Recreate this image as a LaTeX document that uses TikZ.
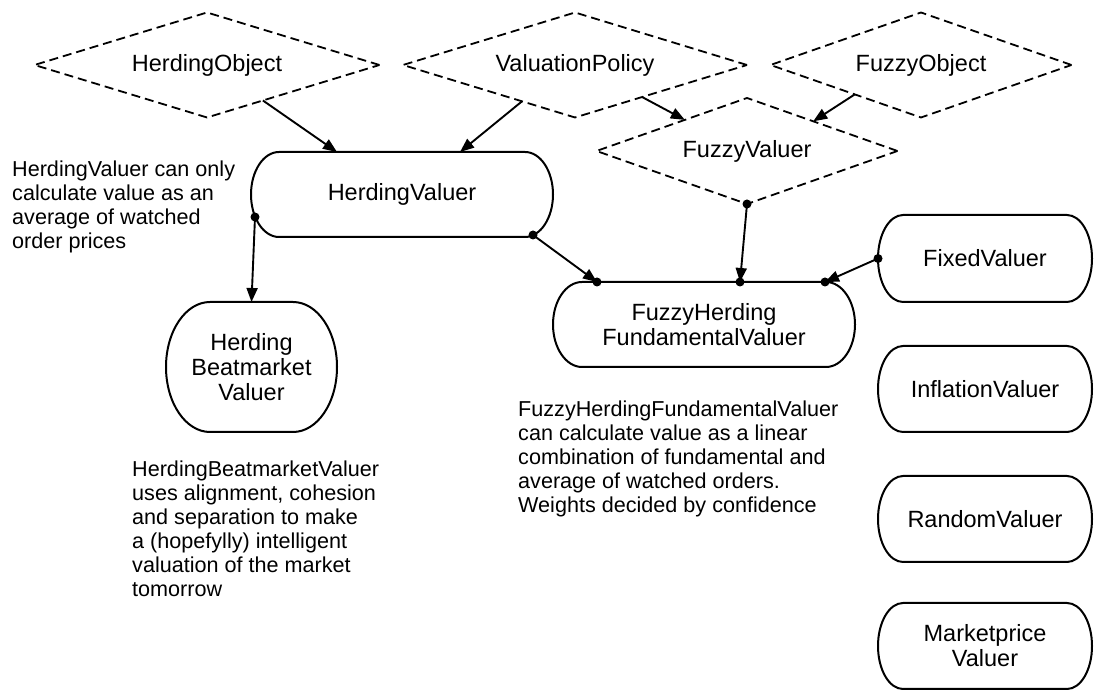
\documentclass[tikz,border=0pt]{standalone}
\usepackage{fontspec}
\setmainfont{Liberation Sans}
\usetikzlibrary{shapes.geometric,arrows.meta,calc}

\tikzset{
  outline/.style={line width=2pt, draw=black},
  boxtext/.style={font=\fontsize{23.5}{25}\selectfont, align=center,
    inner sep=0pt, outer sep=0pt},
  decision/.style={shape=diamond, draw, line width=1.8pt,
    dash pattern=on 9pt off 5pt, aspect=3.3, inner sep=0pt, outer sep=0pt,
    font=\fontsize{23.5}{25}\selectfont},
  note/.style={font=\fontsize{21.6}{24}\selectfont, align=left,
    inner sep=0pt, anchor=north west},
  conn/.style={line width=1.9pt, -{Triangle[length=14pt,width=11pt]}},
}

% capsule outline with elliptic ends around a node: #1 node, #2 end radius
\newcommand\capsule[2]{%
  \draw[outline] let \p1=(#1.north west), \p2=(#1.south east),
      \n1={(\y1-\y2)/2} in
    (\x1+#2,\y1) -- (\x2-#2,\y1)
    arc[start angle=90,end angle=-90,x radius=#2,y radius=\n1]
    -- (\x1+#2,\y2)
    arc[start angle=270,end angle=90,x radius=#2,y radius=\n1] -- cycle;}

\begin{document}
\begin{tikzpicture}[x=1pt,y=1pt]
\useasboundingbox (0,0) rectangle (1095,690);
\fill[white] (0,0) rectangle (1095,690);

% abstract types
\node[decision, minimum width=345pt, minimum height=105pt] (ho) at (207,625) {HerdingObject};
\node[decision, minimum width=344pt, minimum height=105pt] (vp) at (575,625) {ValuationPolicy};
\node[decision, minimum width=301pt, minimum height=105pt] (fo) at (921,625) {FuzzyObject};
\node[decision, minimum width=301pt, minimum height=106pt] (fv) at (747,539) {FuzzyValuer};

% concrete valuers
\node[boxtext, minimum width=302pt, minimum height=85pt] (hv) at (402,495.5) {HerdingValuer};
\node[boxtext, minimum width=171pt, minimum height=130pt] (hbv) at (251.5,323) {Herding\\Beatmarket\\Valuer};
\node[boxtext, minimum width=302pt, minimum height=85pt] (fhfv) at (704,365.5) {FuzzyHerding\\FundamentalValuer};
\node[boxtext, minimum width=214pt, minimum height=87pt] (fixed) at (985,431.5) {FixedValuer};
\node[boxtext, minimum width=214pt, minimum height=86pt] (infl) at (985,301) {InflationValuer};
\node[boxtext, minimum width=214pt, minimum height=86pt] (rand) at (985,171) {RandomValuer};
\node[boxtext, minimum width=214pt, minimum height=86pt] (mkt) at (985,44) {Marketprice\\Valuer};

\capsule{hv}{28pt}
\capsule{hbv}{44pt}
\capsule{fhfv}{29pt}
\capsule{fixed}{25pt}
\capsule{infl}{25pt}
\capsule{rand}{25pt}
\capsule{mkt}{25pt}

% explanatory notes
\node[note] (n1) at (12,529.5) {HerdingValuer can only\\calculate value as an\\average of watched\\order prices};
\node[note] (n2) at (132,229.5) {HerdingBeatmarketValuer\\uses alignment, cohesion\\and separation to make\\a (hopefylly) intelligent\\valuation of the market\\tomorrow};
\node[note] (n3) at (518,289.5) {FuzzyHerdingFundamentalValuer\\can calculate value as a linear\\combination of fundamental and\\average of watched orders.\\Weights decided by confidence};

% connection points on the borders
\coordinate (hoP)   at ($(ho.south)!0.324!(ho.east)$);
\coordinate (vpP1)  at ($(vp.south)!0.308!(vp.west)$);
\coordinate (vpP2)  at ($(vp.south)!0.39!(vp.east)$);
\coordinate (foP)   at ($(fo.west)!0.56!(fo.south)$);
\coordinate (fvIn1) at ($(fv.west)!0.587!(fv.north)$);
\coordinate (fvIn2) at ($(fv.north)!0.44!(fv.east)$);
\coordinate (hvIn1) at ($(hv.north)+(-65,0)$);
\coordinate (hvIn2) at ($(hv.north)+(58,0)$);
\coordinate (hvL)   at ($(hv.center)+(-147,-22.5)$);
\coordinate (hvR)   at ($(hv.center)+(131,-40.5)$);
\coordinate (fhIn1) at ($(fhfv.north)+(-107,0)$);
\coordinate (fhIn2) at ($(fhfv.north)+(36,0)$);
\coordinate (fhIn3) at ($(fhfv.north)+(121,0)$);

% connectors
\draw[conn] (hoP) -- (hvIn1);
\draw[conn] (vpP1) -- (hvIn2);
\draw[conn] (vpP2) -- (fvIn1);
\draw[conn] (foP) -- (fvIn2);
\draw[conn] (hvL) -- (hbv.north);
\draw[conn] (hvR) -- (fhIn1);
\draw[conn] (fv.south) -- (fhIn2);
\draw[conn] (fixed.west) -- (fhIn3);

\foreach \p in {hvL,hvR,fhIn1,fv.south,fhIn2,fixed.west,fhIn3}
  \fill (\p) circle (4.5pt);
\end{tikzpicture}
\end{document}
